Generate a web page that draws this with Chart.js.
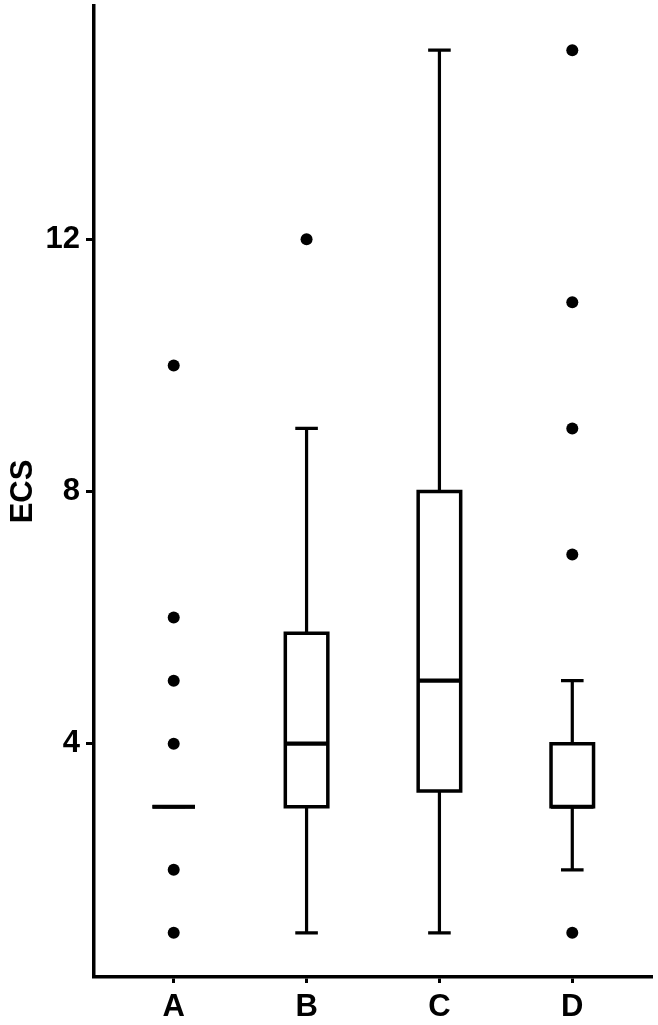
<!DOCTYPE html>
<html>
<head>
<meta charset="utf-8">
<script src="https://cdn.jsdelivr.net/npm/chart.js@4.4.0/dist/chart.umd.min.js"></script>
<style>
  html, body { margin: 0; padding: 0; background: #fff; }
  #wrap { width: 658px; height: 1025px; }
</style>
</head>
<body>
<div id="wrap"><canvas id="chart" width="658" height="1025"></canvas></div>
<script>
// box plot summary per group
const categories = ['A', 'B', 'C', 'D'];
const whiskerLow = [3, 1, 1, 2];
const q1 = [3, 3, 3.25, 3];
const median = [3, 4, 5, 3];
const q3 = [3, 5.75, 8, 4];
const whiskerHigh = [3, 9, 15, 5];
const outliers = [
    [1, 2, 4, 5, 6, 10],
    [12],
    [],
    [1, 7, 9, 11, 15]
];
const yTicks = [4, 8, 12];

const FONT = { family: "'Liberation Sans', Arial, sans-serif", size: 31, weight: 'bold' };
const BOX_WIDTH = 0.32;   // in category units
const CAP_WIDTH = 0.17;

// outlier points as a scatter dataset
const outlierPoints = [];
outliers.forEach((vals, i) => {
    vals.forEach(v => outlierPoints.push({ x: i, y: v }));
});

// draws whiskers, boxes and medians through the chart scales
const boxPlotPlugin = {
    id: 'boxPlot',
    beforeDatasetsDraw(chart) {
        const { ctx, scales: { x, y } } = chart;
        ctx.save();
        ctx.strokeStyle = '#000';
        ctx.fillStyle = '#fff';
        ctx.lineJoin = 'miter';
        ctx.lineCap = 'butt';

        categories.forEach((cat, i) => {
            const cx = x.getPixelForValue(i);
            const left = x.getPixelForValue(i - BOX_WIDTH / 2);
            const right = x.getPixelForValue(i + BOX_WIDTH / 2);
            const capL = x.getPixelForValue(i - CAP_WIDTH / 2);
            const capR = x.getPixelForValue(i + CAP_WIDTH / 2);
            const yLo = y.getPixelForValue(whiskerLow[i]);
            const yHi = y.getPixelForValue(whiskerHigh[i]);
            const yQ1 = y.getPixelForValue(q1[i]);
            const yQ3 = y.getPixelForValue(q3[i]);
            const yMed = y.getPixelForValue(median[i]);

            // whiskers
            ctx.lineWidth = 3.2;
            ctx.beginPath();
            ctx.moveTo(cx, yHi); ctx.lineTo(cx, yQ3);
            ctx.moveTo(cx, yQ1); ctx.lineTo(cx, yLo);
            ctx.moveTo(capL, yHi); ctx.lineTo(capR, yHi);
            ctx.moveTo(capL, yLo); ctx.lineTo(capR, yLo);
            ctx.stroke();

            // box
            ctx.lineWidth = 3.5;
            ctx.beginPath();
            ctx.rect(left, yQ3, right - left, yQ1 - yQ3);
            ctx.fill();
            ctx.stroke();

            // median
            ctx.lineWidth = 4.2;
            ctx.beginPath();
            ctx.moveTo(left, yMed); ctx.lineTo(right, yMed);
            ctx.stroke();
        });
        ctx.restore();
    }
};

const ctx = document.getElementById('chart').getContext('2d');
const chart = new Chart(ctx, {
    type: 'scatter',
    data: {
        datasets: [{
            label: 'outliers',
            data: outlierPoints,
            backgroundColor: '#000',
            borderColor: '#000',
            pointRadius: 6,
            pointHoverRadius: 6,
            borderWidth: 0
        }]
    },
    options: {
        responsive: false,
        animation: false,
        events: [],
        layout: { padding: { top: 5, right: 5, left: 0, bottom: 0 } },
        plugins: {
            legend: { display: false },
            tooltip: { enabled: false }
        },
        scales: {
            x: {
                type: 'linear',
                min: -0.6,
                max: 3.6,
                afterBuildTicks: scale => {
                    scale.ticks = categories.map((c, i) => ({ value: i }));
                },
                afterFit: scale => {
                    scale.height = 48;
                    scale.paddingLeft = 0;
                    scale.paddingRight = 0;
                },
                ticks: {
                    callback: v => categories[v],
                    color: '#000',
                    font: FONT,
                    padding: 6,
                    maxRotation: 0
                },
                grid: {
                    display: true,
                    drawOnChartArea: false,
                    drawTicks: true,
                    tickLength: 6,
                    tickColor: '#000',
                    tickWidth: 3
                },
                border: { display: true, color: '#000', width: 3.5 }
            },
            y: {
                type: 'linear',
                min: 0.3,
                max: 15.7,
                afterBuildTicks: scale => {
                    scale.ticks = yTicks.map(v => ({ value: v }));
                },
                afterFit: scale => {
                    scale.width = 94;
                    scale.paddingTop = 0;
                    scale.paddingBottom = 0;
                },
                ticks: {
                    color: '#000',
                    font: FONT,
                    padding: 6
                },
                grid: {
                    display: true,
                    drawOnChartArea: false,
                    drawTicks: true,
                    tickLength: 8,
                    tickColor: '#000',
                    tickWidth: 3
                },
                border: { display: true, color: '#000', width: 3.5 },
                title: {
                    display: true,
                    text: 'ECS',
                    color: '#000',
                    font: FONT,
                    padding: { top: 5, bottom: 0 }
                }
            }
        }
    },
    plugins: [boxPlotPlugin]
});
</script>
</body>
</html>
